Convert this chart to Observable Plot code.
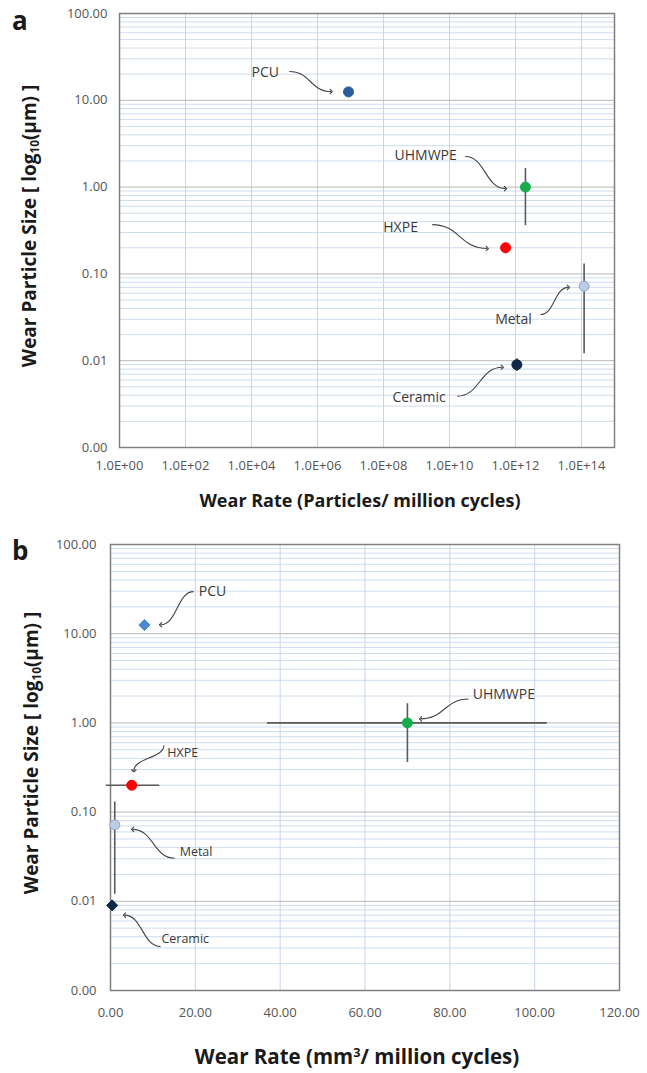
<!DOCTYPE html>
<html><head><meta charset="utf-8">
<script src="https://cdn.jsdelivr.net/npm/d3@7"></script>
<script src="https://cdn.jsdelivr.net/npm/@observablehq/plot@0.6"></script>
<style>
body{margin:0;background:#fff;font-family:"Open Sans",sans-serif;}
#wrap{position:relative;width:647px;height:1073px;overflow:hidden;background:#fff;}
#wrap svg{position:absolute;left:0;overflow:visible;}
.lab{position:absolute;font-weight:bold;color:#1a1a1a;white-space:nowrap;font-family:"Open Sans",sans-serif;}
.lab sub{font-size:0.62em;vertical-align:-0.25em;}
.lab sup{font-size:0.62em;vertical-align:0.55em;line-height:0;}
</style></head><body><div id="wrap"></div>
<script>
// ---- data ----
const materials = ["PCU", "UHMWPE", "HXPE", "Metal", "Ceramic"];
const sizeMean = [12.5, 1.0, 0.2, 0.072, 0.009];
const sizeLow  = [null, 0.36, 0.18, 0.012, 0.0075];
const sizeHigh = [null, 1.64, 0.22, 0.13, 0.0105];
const particleRate = [8.7e6, 2.0e12, 5.0e11, 1.2e14, 1.1e12];
const volumeRate = [8.0, 70.0, 5.0, 1.0, 0.4];
const volumeLow  = [null, 37.0, -1.0, null, null];
const volumeHigh = [null, 103.0, 11.6, null, null];
const colorsA = ["#2b5c9e", "#17ad4d", "#ff0000", "#b9cde6", "#12264a"];
const colorsB = ["#4a88d0", "#17ad4d", "#ff0000", "#b9cde6", "#12264a"];
const symbolsB = ["diamond", "circle", "circle", "circle", "diamond"];

const yTicks = [0.001, 0.01, 0.1, 1, 10, 100];
const yTickLabels = ["0.00", "0.01", "0.10", "1.00", "10.00", "100.00"];
const xTicksA = [1e0, 1e2, 1e4, 1e6, 1e8, 1e10, 1e12, 1e14];
const xTickLabelsA = ["1.0E+00", "1.0E+02", "1.0E+04", "1.0E+06", "1.0E+08", "1.0E+10", "1.0E+12", "1.0E+14"];
const xTicksB = [0, 20, 40, 60, 80, 100, 120];
const xTickLabelsB = ["0.00", "20.00", "40.00", "60.00", "80.00", "100.00", "120.00"];

// annotation callouts (data space): label position, arrow start, arrow end
const annA = [
  {label: "PCU",     tx: 2.6e4, ty: 21,     sx: 1.4e5, sy: 21.5,  ex: 2.6e6, ey: 12.6},
  {label: "UHMWPE",  tx: 1.9e9, ty: 2.3,    sx: 3.0e10, sy: 2.25, ex: 5.0e11, ey: 0.96},
  {label: "HXPE",    tx: 3.3e8, ty: 0.34,   sx: 3.0e9, sy: 0.37,  ex: 1.4e11, ey: 0.196},
  {label: "Metal",   tx: 8.7e11, ty: 0.030, sx: 5.7e12, sy: 0.034, ex: 4.0e13, ey: 0.07},
  {label: "Ceramic", tx: 1.2e9, ty: 0.0038, sx: 1.7e10, sy: 0.0039, ex: 4.0e11, ey: 0.0084}
];
const annB = [
  {label: "PCU",     tx: 20.8, ty: 29.6,   sx: 19.6, sy: 29.6,  ex: 11.8, ey: 12.6, fs: 14, curve: "bump-x"},
  {label: "UHMWPE",  tx: 85.4, ty: 2.07,   sx: 84.4, sy: 1.85,  ex: 73.1, ey: 1.11, fs: 14, curve: "bump-x"},
  {label: "HXPE",    tx: 13.4, ty: 0.46,   sx: 12.6, sy: 0.56,  ex: 5.5,  ey: 0.29, fs: 12.5, curve: "bump-y"},
  {label: "Metal",   tx: 16.3, ty: 0.0356, sx: 15.1, sy: 0.0304, ex: 5.2, ey: 0.064, fs: 12.5, curve: "bump-x"},
  {label: "Ceramic", tx: 12.0, ty: 0.00374, sx: 11.8, sy: 0.0031, ex: 3.3, ey: 0.0070, fs: 12.5, curve: "bump-x"}
];

// minor log gridlines (2..9 within each decade)
const minorY = [];
for (let i = 0; i < yTicks.length - 1; i++) for (let k = 2; k <= 9; k++) minorY.push(yTicks[i] * k);

const dataA = materials.map((m, i) => ({m, x: particleRate[i], y: sizeMean[i], y1: sizeLow[i], y2: sizeHigh[i], c: colorsA[i]}));
const dataB = materials.map((m, i) => ({m, x: volumeRate[i], y: sizeMean[i], y1: sizeLow[i], y2: sizeHigh[i], x1: volumeLow[i], x2: volumeHigh[i], c: colorsB[i], s: symbolsB[i]}));

// tick label lookup by nearest value
function lookup(ticks, labels, log) {
  return d => {
    let best = 0, bd = Infinity;
    ticks.forEach((t, i) => {
      const dist = log ? Math.abs(Math.log10(t) - Math.log10(d)) : Math.abs(t - d);
      if (dist < bd) { bd = dist; best = i; }
    });
    return labels[best];
  };
}

const wrap = document.getElementById("wrap");
const axisStyle = {fontFamily: "'Open Sans', sans-serif", fontSize: "13px", color: "#555", background: "transparent", overflow: "visible"};

const plotA = Plot.plot({
  width: 647, height: 520,
  marginLeft: 119, marginRight: 33, marginTop: 13, marginBottom: 73,
  style: axisStyle,
  x: {type: "log", domain: [1, 1e15], label: null},
  y: {type: "log", domain: [0.001, 100], label: null},
  marks: [
    Plot.ruleY(minorY, {stroke: "#cfdcee", strokeWidth: 1}),
    Plot.ruleX(xTicksA.slice(1), {stroke: "#c6d5ea", strokeWidth: 1}),
    Plot.ruleY(yTicks, {stroke: "#b8b8b8", strokeWidth: 1}),
    Plot.frame({stroke: "#808080", strokeWidth: 1.5}),
    Plot.axisX(xTicksA, {tickFormat: lookup(xTicksA, xTickLabelsA, true), tickSize: 0, tickPadding: 13, label: null}),
    Plot.axisY(yTicks, {tickFormat: lookup(yTicks, yTickLabels, true), tickSize: 0, tickPadding: 12, label: null}),
    Plot.ruleX(dataA.filter(d => d.y1 != null), {x: "x", y1: "y1", y2: "y2", stroke: "#5a5a5a", strokeWidth: 1.6}),
    Plot.link(annA, {x1: "sx", y1: "sy", x2: "ex", y2: "ey", curve: "bump-x", markerEnd: "arrow", stroke: "#444", strokeWidth: 1.1}),
    Plot.text(annA, {x: "tx", y: "ty", text: "label", fontSize: 14, fill: "#3a3a3a", textAnchor: "middle"}),
    Plot.dot(dataA, {x: "x", y: "y", fill: "c", r: 5, stroke: d => d.m === "Metal" ? "#8ea6c6" : d.c, strokeWidth: 1})
  ]
});
plotA.style.top = "0px";
wrap.appendChild(plotA);

const plotB = Plot.plot({
  width: 647, height: 543,
  marginLeft: 110, marginRight: 28, marginTop: 14, marginBottom: 83,
  style: axisStyle,
  x: {type: "linear", domain: [0, 120], label: null},
  y: {type: "log", domain: [0.001, 100], label: null},
  marks: [
    Plot.ruleY(minorY, {stroke: "#cfdcee", strokeWidth: 1}),
    Plot.ruleX(xTicksB.slice(1, -1), {stroke: "#c6d5ea", strokeWidth: 1}),
    Plot.ruleY(yTicks, {stroke: "#b8b8b8", strokeWidth: 1}),
    Plot.frame({stroke: "#808080", strokeWidth: 1.5}),
    Plot.axisX(xTicksB, {tickFormat: lookup(xTicksB, xTickLabelsB, false), tickSize: 0, tickPadding: 17, label: null}),
    Plot.axisY(yTicks, {tickFormat: lookup(yTicks, yTickLabels, true), tickSize: 0, tickPadding: 14, label: null}),
    Plot.ruleX(dataB.filter(d => d.y1 != null && d.m !== "HXPE" && d.m !== "Ceramic"), {x: "x", y1: "y1", y2: "y2", stroke: "#5a5a5a", strokeWidth: 1.6}),
    Plot.ruleY(dataB.filter(d => d.x1 != null), {y: "y", x1: "x1", x2: "x2", stroke: "#5a5a5a", strokeWidth: 1.6}),
    Plot.link(annB.filter(d => d.curve === "bump-x"), {x1: "sx", y1: "sy", x2: "ex", y2: "ey", curve: "bump-x", markerEnd: "arrow", stroke: "#444", strokeWidth: 1.1}),
    Plot.link(annB.filter(d => d.curve === "bump-y"), {x1: "sx", y1: "sy", x2: "ex", y2: "ey", curve: "bump-y", markerEnd: "arrow", stroke: "#444", strokeWidth: 1.1}),
    Plot.text(annB.filter(d => d.fs === 14), {x: "tx", y: "ty", text: "label", fontSize: 14, fill: "#3a3a3a", textAnchor: "start"}),
    Plot.text(annB.filter(d => d.fs !== 14), {x: "tx", y: "ty", text: "label", fontSize: 12.5, fill: "#3a3a3a", textAnchor: "start"}),
    Plot.dot(dataB.filter(d => d.s === "circle"), {x: "x", y: "y", fill: "c", r: 5, stroke: d => d.m === "Metal" ? "#8ea6c6" : d.c, strokeWidth: 1}),
    Plot.dot(dataB.filter(d => d.s === "diamond"), {x: "x", y: "y", fill: "c", r: 5, symbol: "diamond2", stroke: "c", strokeWidth: 1})
  ]
});
plotB.style.top = "530px";
wrap.appendChild(plotB);

// titles and panel letters
function addLabel(html, css) {
  const d = document.createElement("div");
  d.className = "lab";
  d.innerHTML = html;
  Object.assign(d.style, css);
  wrap.appendChild(d);
  return d;
}
addLabel("a", {left: "12px", top: "2px", fontSize: "26px"});
addLabel("b", {left: "12px", top: "532px", fontSize: "26px"});
addLabel("Wear Particle Size [ log<sub>10</sub>(µm) ]", {left: "29px", top: "226px", fontSize: "19px", transform: "translate(-50%,-50%) rotate(-90deg)"});
addLabel("Wear Particle Size [ log<sub>10</sub>(µm) ]", {left: "31px", top: "753px", fontSize: "19px", transform: "translate(-50%,-50%) rotate(-90deg)"});
addLabel("Wear Rate (Particles/ million cycles)", {left: "360px", top: "500px", fontSize: "18px", transform: "translate(-50%,-50%)"});
addLabel("Wear Rate (mm<sup>3</sup>/ million cycles)", {left: "357px", top: "1056px", fontSize: "20.5px", transform: "translate(-50%,-50%)"});
</script>
</body></html>
